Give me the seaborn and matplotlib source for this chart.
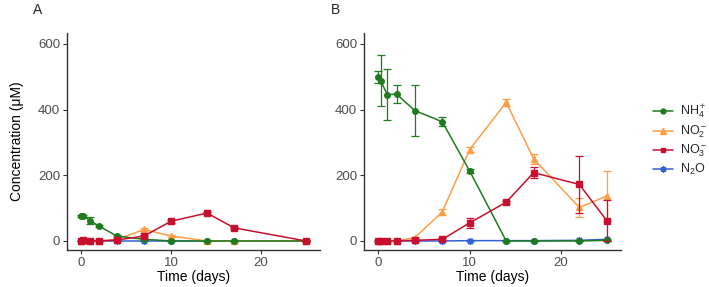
import numpy as np
import pandas as pd
import matplotlib
matplotlib.use("Agg")
import matplotlib.pyplot as plt
import seaborn as sns
from matplotlib.lines import Line2D

# ---------------- data ----------------
species = ["NH4", "NO2", "NO3", "N2O"]
species_labels = [r"NH$_4^+$", r"NO$_2^-$", r"NO$_3^-$", r"N$_2$O"]

time_a = [0, 0.25, 1, 2, 4, 7, 10, 14, 17, 25]
nh4_a = [75, 77, 62, 45, 15, 5, 0, 0, 0, 0]
nh4_a_sd = [3, 3, 10, 3, 2, 1, 1, 1, 1, 1]
no2_a = [0, 0, 0, 0, 5, 35, 15, 0, 0, 0]
no2_a_sd = [1, 1, 1, 1, 2, 4, 3, 2, 2, 2]
no3_a = [0, 2, 1, 0, 3, 15, 60, 85, 40, 0]
no3_a_sd = [1, 2, 1, 1, 1, 2, 4, 4, 3, 3]
n2o_a = [0, 0, 0, 0, 0, 0, 0, 0, 0, 0]
n2o_a_sd = [0, 0, 0, 0, 0, 0, 0, 0, 0, 0]

time_b = [0, 0.25, 1, 2, 4, 7, 10, 14, 17, 22, 25]
nh4_b = [500, 488, 445, 447, 397, 363, 213, 0, 0, 0, 2]
nh4_b_sd = [18, 77, 78, 28, 78, 14, 6, 1, 1, 1, 1]
no2_b = [0, 0, 0, 0, 10, 88, 278, 422, 250, 102, 137]
no2_b_sd = [1, 1, 1, 1, 3, 10, 8, 10, 15, 30, 77]
no3_b = [0, 0, 0, 0, 2, 5, 55, 118, 208, 172, 62]
no3_b_sd = [1, 1, 1, 1, 1, 3, 15, 5, 16, 87, 63]
n2o_b = [0, 0, 0, 0, 0, 0, 1, 1, 1, 2, 5]
n2o_b_sd = [0, 0, 0, 0, 0, 0, 0, 0, 0, 1, 2]

x_ticks = [0, 10, 20]
y_ticks = [0, 200, 400, 600]

colors = {"NH4": "#1E7B1E", "NO2": "#FF9D47", "NO3": "#C8102E", "N2O": "#3461D1"}
markers = {"NH4": "o", "NO2": "^", "NO3": "s", "N2O": (8, 2, 0)}
msizes = {"NH4": 4, "NO2": 4.5, "NO3": 3.8, "N2O": 5}

def build(time, series, sds):
    rows = []
    for sp, vals, sd in zip(species, series, sds):
        for t, v, s in zip(time, vals, sd):
            rows.append({"time": t, "conc": v, "sd": s, "species": sp})
    return pd.DataFrame(rows)

df_a = build(time_a, [nh4_a, no2_a, no3_a, n2o_a], [nh4_a_sd, no2_a_sd, no3_a_sd, n2o_a_sd])
df_b = build(time_b, [nh4_b, no2_b, no3_b, n2o_b], [nh4_b_sd, no2_b_sd, no3_b_sd, n2o_b_sd])

# ---------------- figure ----------------
sns.set_theme(style="ticks")
plt.rcParams["font.family"] = ["Liberation Sans", "DejaVu Sans"]
plt.rcParams["mathtext.fontset"] = "custom"
plt.rcParams["mathtext.rm"] = "Liberation Sans"
plt.rcParams["mathtext.it"] = "Liberation Sans:italic"

W, H = 709, 287
fig = plt.figure(figsize=(W / 100, H / 100), dpi=100)
ax_a = fig.add_axes([67 / W, 1 - 250 / H, (320 - 67) / W, (250 - 33) / H])
ax_b = fig.add_axes([364 / W, 1 - 250 / H, (621 - 364) / W, (250 - 33) / H])

draw_order = ["N2O", "NO2", "NH4", "NO3"]

for ax, df in [(ax_a, df_a), (ax_b, df_b)]:
    for z, sp in enumerate(draw_order):
        sub = df[df["species"] == sp]
        ax.errorbar(sub["time"], sub["conc"], yerr=sub["sd"], fmt="none",
                    ecolor=colors[sp], elinewidth=0.9, capsize=3, capthick=0.9,
                    zorder=2 + z)
        sns.lineplot(data=sub, x="time", y="conc", ax=ax, color=colors[sp],
                     marker=markers[sp], markersize=msizes[sp],
                     markeredgecolor=colors[sp], markeredgewidth=1.0,
                     linewidth=1.1, errorbar=None, legend=False, zorder=2 + z)
    ax.set_xlim(-1.56, 26.56)
    ax.set_ylim(-27.5, 633)
    ax.set_xticks(x_ticks)
    ax.set_yticks(y_ticks)
    ax.set_xlabel("Time (days)", fontsize=10, color="black", labelpad=1)
    ax.set_ylabel("")
    for s in ["top", "right"]:
        ax.spines[s].set_visible(False)
    for s in ["left", "bottom"]:
        ax.spines[s].set_color("#333333")
        ax.spines[s].set_linewidth(1.0)
    ax.tick_params(axis="both", labelsize=9.5, colors="#333333", labelcolor="#4D4D4D",
                   length=3, width=0.8, pad=2)

ax_a.set_ylabel("Concentration (\u03bcM)", fontsize=10, color="black", labelpad=10)

fig.text(33 / W, 1 - 10 / H, "A", fontsize=10, va="center", ha="left")
fig.text(331 / W, 1 - 10 / H, "B", fontsize=10, va="center", ha="left")

handles = [Line2D([0], [0], color=colors[sp], marker=markers[sp], markersize=msizes[sp] - 0.5,
                  markeredgecolor=colors[sp], linewidth=1.1)
           for sp in species]
fig.legend(handles, species_labels, loc="center left", bbox_to_anchor=(653 / W, 1 - 140 / H),
           frameon=False, fontsize=9, handlelength=1.6, handletextpad=0.6,
           labelspacing=0.2, borderaxespad=0, borderpad=0)

fig.savefig("out.png", dpi=100)
